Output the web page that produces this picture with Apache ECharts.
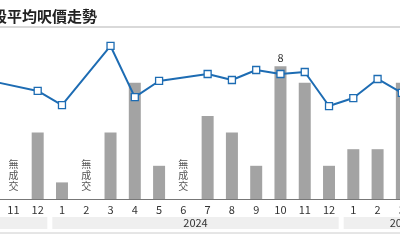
<!DOCTYPE html>
<html><head><meta charset="utf-8">
<script src="https://cdn.jsdelivr.net/npm/echarts@6/dist/echarts.min.js"></script>
<style>html,body{margin:0;padding:0;background:#fff;overflow:hidden;width:400px;height:240px}#c{position:absolute;left:-23px;top:0;width:437px;height:240px}</style>
</head><body><div id="c"></div>
<script>
const titleText = '段平均呎價走勢';
const months = ['10','11','12','1','2','3','4','5','6','7','8','9','10','11','12','1','2','3'];
const counts = [3, 0, 4, 1, 0, 4, 7, 2, 0, 5, 4, 2, 8, 7, 2, 3, 3, 7];
const avgPrice = [15130, null, 14510, 13660, null, 17220, 14140, 15110, null, 15530, 15170, 15770, 15530, 15650, 13600, 14080, 15230, 14390];
const yearLabels = ['2023', '2024', '2025'];
const yearFirstIdx = [-9, 3, 15];
const yearLastIdx = [2, 14, 19];
const noDealText = '無\n成\n交';

const font = '"Noto Sans CJK TC", "Noto Sans", sans-serif';
const maxCount = Math.max.apply(null, counts);
const barData = counts.map(function (v) {
  if (v === 0) {
    return { value: 0, label: { show: true, position: 'top', distance: 7, formatter: noDealText, fontSize: 10, lineHeight: 11, color: '#555', fontFamily: font } };
  }
  if (v === maxCount) {
    return { value: v, label: { show: true, position: 'top', distance: 3, fontSize: 11, color: '#333', fontFamily: font } };
  }
  return v;
});

const chart = echarts.init(document.getElementById('c'), null, { renderer: 'canvas' });
chart.setOption({
  animation: false,
  backgroundColor: '#fff',
  title: { text: titleText, left: 10, top: 4, textStyle: { fontSize: 15, fontWeight: 'bold', color: '#222', fontFamily: font } },
  grid: { left: 0, right: 0, top: 33, bottom: 41, containLabel: false },
  xAxis: {
    type: 'category', data: months, boundaryGap: true,
    axisLine: { lineStyle: { color: '#777', width: 1 } },
    axisTick: { length: 4, lineStyle: { color: '#666' } },
    axisLabel: { fontSize: 11, color: '#333', margin: 5, fontFamily: font }
  },
  yAxis: [
    { type: 'value', min: 0, max: 10, show: false, splitLine: { show: false } },
    { type: 'value', min: 8000, max: 18000, show: false, splitLine: { show: false } }
  ],
  series: [
    { type: 'bar', yAxisIndex: 0, data: barData, barWidth: 12, itemStyle: { color: '#a3a3a3' }, z: 1 },
    { type: 'line', yAxisIndex: 1, data: avgPrice, connectNulls: true, symbol: 'rect', symbolSize: 7,
      lineStyle: { color: '#1d6cb3', width: 2 },
      itemStyle: { color: '#fff', borderColor: '#1d6cb3', borderWidth: 1.3 }, z: 3 }
  ]
});

// year band under month labels, positioned through the category axis
const p0 = chart.convertToPixel({ xAxisIndex: 0 }, 0);
const p1 = chart.convertToPixel({ xAxisIndex: 0 }, 1);
const step = p1 - p0;
const px = function (i) { return p0 + i * step; };
const graphics = [];
for (let k = 0; k < yearLabels.length; k++) {
  const x1 = px(yearFirstIdx[k]) - step / 2 + 2.5;
  const x2 = px(yearLastIdx[k]) + step / 2 - 2.5;
  graphics.push({ type: 'rect', shape: { x: x1, y: 217, width: x2 - x1, height: 12 }, style: { fill: '#efefef' }, silent: true });
  graphics.push({ type: 'text', x: (x1 + x2) / 2, y: 223, style: { text: yearLabels[k], fill: '#333', font: '11px ' + font, textAlign: 'center', textVerticalAlign: 'middle' }, silent: true });
}
graphics.push({ type: 'line', shape: { x1: 0, y1: 27, x2: 437, y2: 27 }, style: { stroke: '#ccc', lineWidth: 1.5 }, silent: true });
graphics.push({ type: 'line', shape: { x1: 0, y1: 233, x2: 437, y2: 233 }, style: { stroke: '#ccc', lineWidth: 1 }, silent: true });
chart.setOption({ graphic: graphics });
</script></body></html>
